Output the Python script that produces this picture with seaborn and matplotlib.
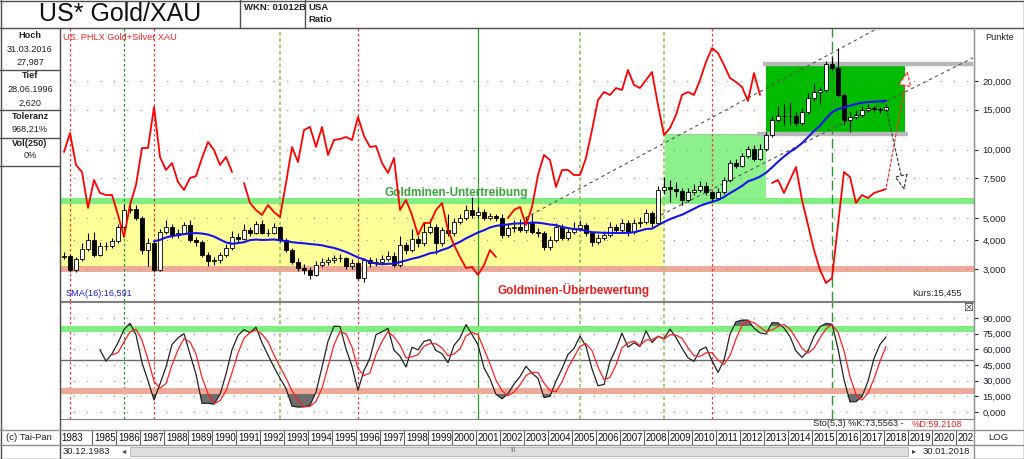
import numpy as np
import pandas as pd
import seaborn as sns
import matplotlib.pyplot as plt
from matplotlib.lines import Line2D
from matplotlib.patches import Rectangle
from matplotlib.ticker import NullLocator

sns.set_theme(style="white")
plt.rcParams['font.family'] = ['Liberation Sans', 'DejaVu Sans']

# quarterly candles, 4Q 1983 .. 1Q 2018 (ratio gold / XAU)
quarters = pd.period_range('1983Q4', '2018Q1', freq='Q')
close = [3.42, 2.97, 3.31, 3.67, 4.02, 3.47, 3.77, 3.77, 3.98, 4.58,
         5.45, 5.51, 5.02, 3.63, 3.90, 2.97, 4.36, 4.58, 4.23, 4.32,
         4.67, 4.02, 3.94, 3.47, 3.24, 3.28, 3.44, 3.70, 4.14, 4.06,
         4.45, 4.32, 4.72, 4.32, 4.32, 4.58, 4.02, 3.63, 3.21, 3.03,
         2.97, 2.82, 3.12, 3.21, 3.28, 3.34, 3.34, 3.09, 3.18, 2.75,
         3.28, 3.18, 3.21, 3.31, 3.42, 3.12, 3.81, 3.63, 4.06, 3.90,
         4.36, 4.58, 3.90, 4.45, 4.32, 4.82, 5.02, 5.45, 5.18, 5.34,
         5.02, 5.12, 5.02, 4.23, 4.54, 4.58, 4.45, 4.77, 4.36, 4.32,
         3.73, 4.02, 4.58, 4.10, 4.36, 4.54, 4.67, 4.32, 3.94, 4.10,
         4.23, 4.58, 4.45, 4.77, 4.36, 4.77, 4.82, 5.28, 4.77, 6.66,
         6.88, 6.74, 6.60, 6.02, 6.53, 6.66, 6.95, 6.53, 6.14, 6.53,
         7.37, 8.75, 8.49, 9.38, 10.08, 9.11, 10.08, 11.6, 13.51, 14.05,
         14.05, 14.05, 13.1, 14.65, 16.9, 17.92, 18.29, 23.8, 22.9, 17.4,
         13.51, 13.92, 14.2, 14.95, 15.25, 15.1, 14.95, 15.45]
high = [3.55, 3.50, 3.40, 3.90, 4.30, 4.35, 3.95, 3.95, 4.10, 4.70,
        5.80, 6.00, 5.70, 5.10, 4.10, 4.00, 4.50, 4.90, 4.70, 4.50,
        4.80, 4.90, 4.15, 4.00, 3.55, 3.40, 3.55, 3.85, 4.40, 4.30,
        4.70, 4.60, 4.85, 4.90, 4.50, 4.75, 4.65, 4.10, 3.70, 3.35,
        3.15, 3.05, 3.25, 3.35, 3.40, 3.45, 3.50, 3.40, 3.30, 3.25,
        3.35, 3.40, 3.35, 3.45, 3.60, 3.55, 4.20, 3.95, 4.50, 4.20,
        4.80, 4.95, 4.70, 4.60, 5.20, 5.00, 5.25, 5.70, 6.20, 5.60,
        5.50, 5.30, 5.25, 5.20, 4.70, 4.90, 4.95, 5.05, 5.20, 4.55,
        4.40, 4.20, 4.75, 4.70, 4.50, 4.80, 4.90, 4.75, 4.40, 4.25,
        4.40, 4.80, 4.70, 4.95, 4.90, 4.95, 5.05, 5.50, 5.40, 6.90,
        7.60, 7.40, 7.20, 6.80, 6.80, 7.10, 7.30, 7.20, 6.60, 6.80,
        7.60, 9.00, 9.10, 9.70, 10.40, 10.50, 10.60, 12.0, 14.0, 15.6,
        15.8, 16.2, 14.6, 15.2, 17.7, 19.4, 18.9, 24.6, 25.6, 27.99,
        17.8, 14.6, 15.0, 15.6, 15.9, 15.5, 15.4, 15.9]
low = [3.30, 2.90, 2.92, 3.25, 3.60, 3.40, 3.42, 3.65, 3.70, 3.90,
       4.50, 5.30, 4.90, 3.50, 3.10, 2.92, 2.95, 4.25, 4.10, 4.10,
       4.25, 3.95, 3.80, 3.40, 3.10, 3.12, 3.20, 3.38, 3.65, 3.95,
       4.00, 4.20, 4.25, 4.25, 4.20, 4.25, 3.95, 3.55, 3.15, 2.95,
       2.85, 2.70, 2.78, 3.05, 3.12, 3.20, 3.22, 3.00, 3.00, 2.68,
       2.62, 3.05, 3.10, 3.15, 3.25, 3.05, 3.05, 3.50, 3.55, 3.75,
       3.80, 4.25, 3.50, 3.80, 4.20, 4.20, 4.70, 4.90, 5.00, 5.00,
       4.90, 4.90, 4.85, 4.10, 4.15, 4.35, 4.35, 4.30, 4.25, 4.15,
       3.65, 3.65, 3.95, 4.00, 4.00, 4.25, 4.40, 4.20, 3.80, 3.85,
       4.00, 4.15, 4.30, 4.35, 4.20, 4.25, 4.60, 4.70, 4.60, 4.70,
       6.40, 5.90, 6.20, 5.70, 5.90, 6.30, 6.50, 6.35, 5.90, 6.00,
       6.40, 7.20, 8.30, 8.40, 9.20, 8.90, 9.00, 9.90, 11.4, 13.3,
       12.8, 12.9, 12.7, 12.9, 14.4, 16.4, 15.8, 17.9, 22.3, 17.0,
       12.9, 12.0, 13.6, 13.9, 14.6, 14.6, 14.5, 14.8]
first_open = 3.40
nan = np.nan
# XAU overlay (own relative scale, gaps where the overlay breaks)
xau = [149, 168, 136, 129, 93, 121, 108, 106, 106, 86,
       64, 96, 116, 153, 153, 194, 144, 131, 138, 119,
       111, 123, 125, 143, 159, 151, 136, 144, 129, nan,
       118, 98, 91, 86, 96, 89, 84, 118, 154, 139,
       171, 174, 154, 174, 146, 161, 162, 164, 161, 184,
       165, 154, 155, 138, 128, 143, 91, 101, 86, 66,
       78, 78, 91, 98, 71, 56, 44, 33, 34, 26,
       36, 51, 44, nan, 83, 91, 94, 76, 94, 126,
       146, 141, 114, 131, 131, 126, 126, 143, 171, 201,
       209, 206, 213, 211, 231, 216, 213, 221, 229, 196,
       166, 173, 186, 206, 209, 206, 221, 239, 253, 248,
       236, 223, 219, 214, 200, 228, 206, nan, 118, 121,
       108, 121, 134, 101, 76, 51, 31, 18, 23, 76,
       129, 124, 98, 106, 103, 108, 110, 112]

price_ticks = [3, 4, 5, 7.5, 10, 15, 20]
sto_ticks = [0, 15, 30, 45, 60, 75, 90]
year_labels = ['1983'] + [str(y) for y in range(1985, 2022)]

# event markers (decimal years) and style
events = [1984.0, 1986.25, 1987.5, 1992.75, 1996.0, 2001.0, 2005.25, 2008.75, 2010.75, 2015.75]
event_kind = ['red', 'green', 'red', 'light', 'red', 'solid', 'light', 'light', 'red', 'long']

# zones: (x0, x1, y0, y1)
yellow_zone = (1983.58, 2008.71, 3.0, 5.95)
light_zone = (2008.79, 2013.0, 5.95, 11.7)
dark_zone = (2013.0, 2018.79, 11.7, 23.8)
upper_level, lower_level = 5.95, 3.0

df = pd.DataFrame({'t': quarters.year + (quarters.quarter - 1) / 4,
                   'close': close, 'high': high, 'low': low, 'xau': xau})
df['open'] = df['close'].shift(1).fillna(first_open)
df['sma'] = df['close'].rolling(16).mean()
ll = df['low'].rolling(5).min()
hh = df['high'].rolling(5).max()
df['k'] = (100 * (df['close'] - ll) / (hh - ll)).rolling(3).mean()
df['d'] = df['k'].rolling(3).mean()

W, H = 1024, 459
fig = plt.figure(figsize=(W / 100, H / 100), dpi=100)
fig.patch.set_facecolor('white')


def box(x0, y0, x1, y1):
    return [x0 / W, 1 - y1 / H, (x1 - x0) / W, (y1 - y0) / H]


def ftext(x, y, s, **kw):
    kw.setdefault('va', 'center')
    kw.setdefault('fontsize', 6.8)
    fig.text(x / W, 1 - y / H, s, **kw)


def fline(xs, ys, color='#505050', lw=1.0):
    fig.add_artist(Line2D([x / W for x in xs], [1 - y / H for y in ys],
                          transform=fig.transFigure, color=color, lw=lw))


X0, X1 = 1983.583, 2021.667
BORDER = '#808080'

# ---------------- main price panel
ax = fig.add_axes(box(60, 28, 974, 301))
ax.set_yscale('log')
ax.set_xlim(X0, X1)
ax.set_ylim(2.17, 34.2)

x0, x1, y0, y1 = yellow_zone
ax.fill_between([x0, x1], y0, y1, color='#ffff99', lw=0, zorder=0.5)
x0, x1, y0, y1 = light_zone
ax.fill_between([x0, x1], y0, y1, color='#8cf08c', lw=0, zorder=0.6)
x0, x1, y0, y1 = dark_zone
ax.fill_between([x0, x1], y0, y1, color='#00bb00', lw=0, zorder=0.7)
ax.axhline(upper_level, color='#80ee80', lw=4.3, zorder=0.8)
ax.axhline(lower_level, color='#eeaa98', lw=4.3, zorder=0.8)
ax.plot([2012.87, 2021.62], [dark_zone[3]] * 2, color='#b8b8b8', lw=3.2, zorder=1, solid_capstyle='butt')
ax.plot([2012.62, 2018.92], [dark_zone[2]] * 2, color='#b8b8b8', lw=3.2, zorder=1, solid_capstyle='butt')
ax.plot([light_zone[0], 2012.62], [light_zone[3]] * 2, color='#b0b0b0', lw=1, ls=(0, (1, 1)), zorder=1)

for v in price_ticks:
    ax.axhline(v, color='#8a8a8a', lw=0.8, ls=(0, (1, 11)), zorder=1)

styles = {'red': ('#ff3030', (0, (2, 2)), 0.9), 'green': ('#1a9a1a', (0, (2, 2)), 0.9),
          'light': ('#99cc66', (0, (2, 1.5)), 1.3), 'solid': ('#2a9a2a', '-', 0.9),
          'long': ('#2a9a2a', (0, (7, 3)), 1.0)}
for ev, kind in zip(events, event_kind):
    c, ls, lw = styles[kind]
    ax.axvline(ev, color=c, ls=ls, lw=lw, zorder=1.2)

# trend channel lines
ax.plot([2002.96, 2017.75], [5.02, 34.5], color='#555555', lw=0.8, ls=(0, (3, 3)), zorder=1.5)
ax.plot([2008.38, 2021.62], [5.02, 25.3], color='#555555', lw=0.8, ls=(0, (3, 3)), zorder=1.5)

# candles
up = df['close'] >= df['open']
ax.vlines(df['t'], df['low'], df['high'], color='black', lw=0.8, zorder=3)
ax.bar(df['t'], (df['close'] - df['open']).abs(), bottom=df[['open', 'close']].min(axis=1),
       width=0.17, color=np.where(up, 'white', 'black'), edgecolor='black', lw=0.6, zorder=4)

sns.lineplot(data=df, x='t', y='sma', ax=ax, color='#1414ee', lw=1.5, zorder=5, legend=False)

ax.annotate('', xy=(2018.79, 6.46), xytext=(2018.0, 15.45),
            arrowprops=dict(arrowstyle='-|>,head_length=0.8,head_width=0.35', ls=(0, (2, 2)),
                            ec='#444444', fc='white', lw=0.9), zorder=6)

ax.text(2000.1, 6.45, 'Goldminen-Untertreibung', color='#3aa63a', fontsize=8.5,
        fontweight='bold', ha='center', va='center', zorder=6)
ax.text(2005.0, 2.43, 'Goldminen-Überbewertung', color='#ee1c1c', fontsize=8.5,
        fontweight='bold', ha='center', va='center', zorder=6)

ax.yaxis.tick_right()
ax.set_yticks(price_ticks)
ax.set_yticklabels([f'{v:.3f}'.replace('.', ',') for v in price_ticks])
ax.yaxis.set_minor_locator(NullLocator())
ax.set_xticks([])
ax.set_xlabel('')
ax.set_ylabel('')
ax.tick_params(axis='y', which='major', direction='out', length=3, width=0.8,
               colors='#202030', labelsize=6.8, pad=3)
for s in ax.spines.values():
    s.set_color(BORDER)
    s.set_linewidth(0.8)

# XAU overlay on its own scale
ax2 = fig.add_axes(box(60, 28, 974, 301))
ax2.set_xlim(X0, X1)
ax2.set_ylim(0, 273)
ax2.axis('off')
ax2.patch.set_alpha(0)
seg = df[['t', 'xau']].copy()
seg['seg'] = seg['xau'].isna().cumsum()
seg = seg.dropna()
sns.lineplot(data=seg, x='t', y='xau', units='seg', estimator=None, ax=ax2,
             color='#ff0000', lw=1.3, legend=False)
ax2.annotate('', xy=(2018.92, 233), xytext=(2018.0, 112),
             arrowprops=dict(arrowstyle='-|>,head_length=0.8,head_width=0.35', ls=(0, (2, 2)),
                             ec='#ff3030', fc='white', lw=0.9))

# ---------------- stochastic panel
axl = fig.add_axes(box(60, 302, 974, 419))
axl.set_xlim(X0, X1)
axl.set_ylim(-6.7, 105.4)
for v in sto_ticks:
    axl.axhline(v, color='#8a8a8a', lw=0.8, ls=(0, (1, 11)), zorder=1)
axl.axhline(50, color='#6a6a6a', lw=1.0, zorder=1.1)
kk = df['k'].to_numpy()
axl.fill_between(df['t'], kk, 80, where=kk > 80, color='#6e6e6e', lw=0, zorder=1.5, interpolate=True)
axl.fill_between(df['t'], kk, 20, where=kk < 20, color='#6e6e6e', lw=0, zorder=1.5, interpolate=True)
axl.axhline(80, color='#80ee80', lw=4.3, zorder=1.8)
axl.axhline(20, color='#eeaa98', lw=4.3, zorder=1.8)
for ev, kind in zip(events, event_kind):
    c, ls, lw = styles[kind]
    axl.axvline(ev, color=c, ls=ls, lw=lw, zorder=1.2)
sns.lineplot(data=df, x='t', y='k', ax=axl, color='#222222', lw=0.9, zorder=3, legend=False)
sns.lineplot(data=df, x='t', y='d', ax=axl, color='#ff2020', lw=0.9, zorder=3, legend=False)
axl.yaxis.tick_right()
axl.set_yticks(sto_ticks)
axl.set_yticklabels([f'{v:.3f}'.replace('.', ',') for v in sto_ticks])
axl.set_xticks([])
axl.set_xlabel('')
axl.set_ylabel('')
axl.tick_params(axis='y', direction='out', length=3, width=0.8, colors='#202030',
                labelsize=6.8, pad=3)
for s in axl.spines.values():
    s.set_color(BORDER)
    s.set_linewidth(0.8)

# ---------------- year row
axy = fig.add_axes(box(60, 430, 974, 445))
axy.set_xlim(X0, X1)
axy.set_ylim(0, 1)
axy.axis('off')
for lab in year_labels:
    yv = int(lab)
    xpos = X0 + 0.06 if yv == 1983 else yv
    if yv != 1983:
        axy.axvline(yv - 0.1, color='#606060', lw=0.8)
    axy.text(xpos, 0.45, lab, fontsize=7, ha='left', va='center', color='#101010', clip_on=True)

# ---------------- header / frame / side texts
fline([0, 1023], [0.5, 0.5])
fline([0, 1023], [458.5, 458.5])
fline([0.5, 0.5], [0, 459])
fline([1023.5, 1023.5], [0, 459])
fline([0, 1024], [28, 28])
fline([240, 240], [0, 28])
fline([305, 305], [0, 28])
fline([60, 60], [28, 459])
fline([974, 974], [28, 459], color='#909090')
fline([0, 60], [70, 70])
fline([0, 60], [110, 110])
fline([0, 60], [138, 138])
fline([0, 60], [166, 166])
fline([0, 1024], [430, 430], color='#909090')
fline([0, 1024], [445, 445], color='#909090')

ftext(120, 14, 'US* Gold/XAU', fontsize=18, ha='center', color='#111111')
ftext(244, 8, 'WKN: 01012B', fontsize=6.8, fontweight='bold', color='#222222')
ftext(308, 8, 'USA', fontsize=6.8, fontweight='bold', color='#222222')
ftext(308, 20, 'Ratio', fontsize=6.8, fontweight='bold', color='#222222')

left_info = [(36, 'Hoch', True), (49, '31.03.2016', False), (62, '27,987', False),
             (76, 'Tief', True), (90, '28.06.1996', False), (103, '2,620', False),
             (116, 'Toleranz', True), (129, '968,21%', False),
             (143, 'Vol(250)', True), (156, '0%', False)]
for yy, s, b in left_info:
    ftext(30, yy, s, ha='center', fontsize=6.6, fontweight='bold' if b else 'normal', color='#222222')

ftext(63, 37, 'US. PHLX Gold+Silver XAU', color='#ff2020', fontsize=6.6)
ftext(985, 37, 'Punkte', color='#222222', fontsize=6.6)
ftext(66, 293, 'SMA(16):16,591', color='#2020dd', fontsize=6.6)
ftext(962, 293, 'Kurs:15,455', color='#222222', fontsize=6.6, ha='right')
ftext(962, 424, '%D:59,2108', color='#ff2020', fontsize=6.6, ha='right')
ftext(906, 424, 'Sto(5,3) %K:73,5563 - ', color='#222222', fontsize=6.6, ha='right')
ftext(968, 308, '\u2612', fontsize=8, ha='center', family='DejaVu Sans', color='#333333')

ftext(6, 438, '(c) Tai-Pan', fontsize=6.8, color='#222222')
ftext(998, 438, 'LOG', fontsize=6.8, ha='center', color='#222222')
ftext(63, 451, '30.12.1983', fontsize=6.8, color='#222222')
ftext(970, 451, '30.01.2018', fontsize=6.8, ha='right', color='#222222')
fig.add_artist(Rectangle((130 / W, 1 - 456 / H), (908 - 130) / W, 9 / H, transform=fig.transFigure,
                         facecolor='#dedede', edgecolor='#b0b0b0', lw=0.6))
ftext(124, 451, '\u25c2', fontsize=6, ha='center', family='DejaVu Sans', color='#444444')
ftext(914, 451, '\u25b8', fontsize=6, ha='center', family='DejaVu Sans', color='#444444')
ftext(513, 451, 'III', fontsize=5, ha='center', color='#777777')

fig.savefig('out.png', dpi=100)
